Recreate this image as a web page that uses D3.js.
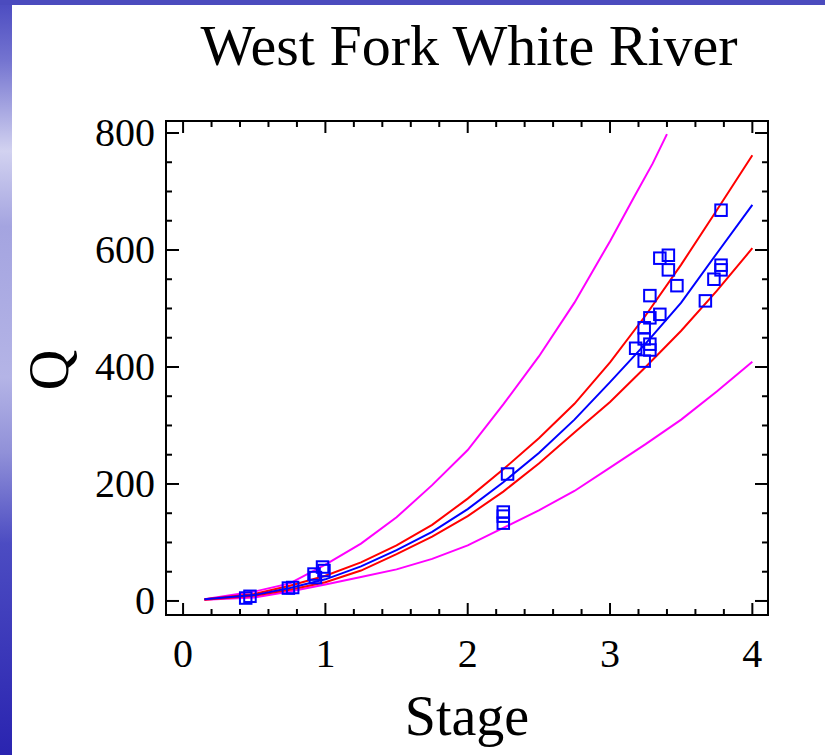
<!DOCTYPE html>
<html>
<head>
<meta charset="utf-8">
<script src="https://cdn.jsdelivr.net/npm/d3@7"></script>
<style>
  html, body { margin: 0; padding: 0; background: #fff; }
  svg { display: block; font-family: "Liberation Serif", "Times New Roman", serif; }
</style>
</head>
<body>
<svg id="container" width="825" height="755"></svg>
<script>
(function () {

    // stage values the curves are drawn at
    const curveStage = [0.15, 0.5, 0.75, 1.0, 1.25, 1.5, 1.75, 2.0, 2.25, 2.5, 2.75, 3.0, 3.25, 3.5, 3.75, 4.0];
    const fitQ      = [3, 10, 22, 37, 59, 87, 118, 157, 203, 253, 310, 374, 440, 510, 594, 677];
    const confUpQ   = [3, 12, 26, 43, 66, 95, 130, 175, 225, 278, 337, 408, 488, 575, 668, 762];
    const confLoQ   = [2, 9, 19, 32, 52, 80, 110, 145, 187, 235, 288, 340, 400, 462, 530, 603];
    const predLoQ   = [2, 6, 16, 28, 41, 54, 72, 95, 125, 155, 188, 228, 268, 310, 358, 409];
    // upper prediction band stops at the top of the plot
    const predUpStage = [0.15, 0.5, 0.75, 1.0, 1.25, 1.5, 1.75, 2.0, 2.25, 2.5, 2.75, 3.0, 3.17, 3.3, 3.4];
    const predUpQ     = [3, 16, 30, 62, 98, 143, 198, 258, 336, 418, 510, 615, 691, 748, 798];

    // observed measurements
    const obsStage = [0.44, 0.47, 0.74, 0.77, 0.92, 0.93, 0.98, 0.99, 2.28, 2.25, 2.25, 2.25,
                      3.78, 3.35, 3.41, 3.41, 3.47, 3.28, 3.78, 3.78, 3.73, 3.67, 3.28, 3.35,
                      3.24, 3.24, 3.28, 3.28, 3.18, 3.24];
    const obsQ     = [5, 8, 22, 23, 46, 40, 58, 52, 217, 152, 145, 133,
                      668, 586, 591, 566, 539, 522, 574, 566, 550, 513, 484, 490,
                      467, 448, 439, 429, 432, 410];

    const xTicks = [0, 1, 2, 3, 4];
    const yTicks = [0, 200, 400, 600, 800];

    const svg = d3.select('#container');
    const width = +svg.attr('width');
    const height = +svg.attr('height');

    // slide background: blue bands on the left and top
    const grad = svg.append('defs').append('linearGradient')
        .attr('id', 'band')
        .attr('x1', 0).attr('y1', 0).attr('x2', 0).attr('y2', 1);
    [[0, '#4a4ac0'], [0.08, '#7474d0'], [0.2, '#d2d2f0'], [0.3, '#a4a4e0'], [0.5, '#b4b4e6'],
     [0.6, '#9090d8'], [0.72, '#4c4cc2'], [1, '#2a24b0']].forEach(s => {
        grad.append('stop').attr('offset', s[0]).attr('stop-color', s[1]);
    });
    svg.append('rect').attr('width', width).attr('height', height).attr('fill', '#fff');
    svg.append('rect').attr('x', 0).attr('y', 0).attr('width', 12).attr('height', height).attr('fill', 'url(#band)');
    svg.append('rect').attr('x', 0).attr('y', 0).attr('width', width).attr('height', 5).attr('fill', '#4b4bbe');

    const left = 166, right = 768, top = 121, bottom = 615;

    const x = d3.scaleLinear().domain([-0.12, 4.11]).range([left, right]);
    const y = d3.scaleLinear().domain([-24, 820.5]).range([bottom, top]);

    // frame
    svg.append('rect')
        .attr('x', left).attr('y', top)
        .attr('width', right - left).attr('height', bottom - top)
        .attr('fill', 'none').attr('stroke', '#000').attr('stroke-width', 2);

    const xMinor = d3.range(0, 41, 2).map(d => d / 10);
    const yMinor = d3.range(0, 801, 50);

    // inward ticks on all four sides
    const tickG = svg.append('g').attr('stroke', '#000').attr('stroke-width', 2);
    xMinor.forEach(v => {
        const len = xTicks.includes(v) ? 12 : 6;
        tickG.append('line').attr('x1', x(v)).attr('x2', x(v)).attr('y1', bottom).attr('y2', bottom - len);
        tickG.append('line').attr('x1', x(v)).attr('x2', x(v)).attr('y1', top).attr('y2', top + len);
    });
    yMinor.forEach(v => {
        const len = yTicks.includes(v) ? 13 : 6;
        tickG.append('line').attr('y1', y(v)).attr('y2', y(v)).attr('x1', left).attr('x2', left + len);
        tickG.append('line').attr('y1', y(v)).attr('y2', y(v)).attr('x1', right).attr('x2', right - len);
    });

    svg.selectAll('.xlab')
        .data(xTicks)
        .enter()
        .append('text')
        .attr('x', d => x(d))
        .attr('y', 667)
        .attr('text-anchor', 'middle')
        .attr('font-size', 40)
        .text(d => d);

    svg.selectAll('.ylab')
        .data(yTicks)
        .enter()
        .append('text')
        .attr('x', 155)
        .attr('y', d => y(d) + 13.5)
        .attr('text-anchor', 'end')
        .attr('font-size', 40)
        .text(d => d);

    // titles
    svg.append('text')
        .attr('x', 469).attr('y', 65)
        .attr('text-anchor', 'middle')
        .attr('font-size', 58)
        .text('West Fork White River');

    svg.append('text')
        .attr('x', 467).attr('y', 735)
        .attr('text-anchor', 'middle')
        .attr('font-size', 56)
        .text('Stage');

    svg.append('text')
        .attr('transform', 'translate(68,370) rotate(-90)')
        .attr('text-anchor', 'middle')
        .attr('font-size', 56)
        .text('Q');

    const line = d3.line()
        .x(d => x(d[0]))
        .y(d => y(d[1]));

    const curves = [
        { stage: predUpStage, q: predUpQ, color: '#ff00ff' },
        { stage: curveStage, q: predLoQ, color: '#ff00ff' },
        { stage: curveStage, q: confUpQ, color: '#ff0000' },
        { stage: curveStage, q: confLoQ, color: '#ff0000' },
        { stage: curveStage, q: fitQ, color: '#0000ff' },
    ];

    svg.selectAll('.curve')
        .data(curves)
        .enter()
        .append('path')
        .attr('d', c => line(c.stage.map((s, i) => [s, c.q[i]])))
        .attr('fill', 'none')
        .attr('stroke', c => c.color)
        .attr('stroke-width', 2);

    const pts = obsStage.map((s, i) => ({ s: s, q: obsQ[i] }));
    const sz = 11.5;
    svg.selectAll('.obs')
        .data(pts)
        .enter()
        .append('rect')
        .attr('x', d => x(d.s) - sz / 2)
        .attr('y', d => y(d.q) - sz / 2)
        .attr('width', sz)
        .attr('height', sz)
        .attr('fill', 'none')
        .attr('stroke', '#0000ff')
        .attr('stroke-width', 2);

})();
</script>
</body>
</html>
